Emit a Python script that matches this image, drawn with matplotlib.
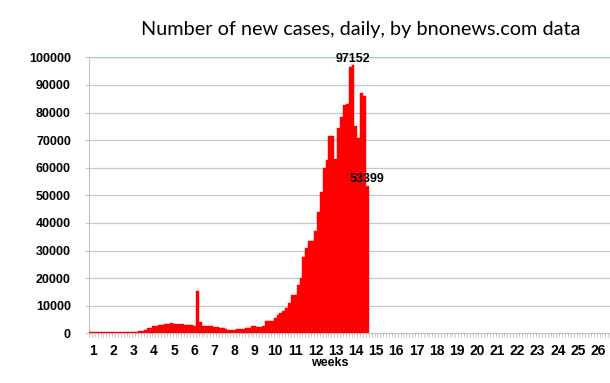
import numpy as np
import matplotlib
matplotlib.use('Agg')
from matplotlib import pyplot as plt

# daily new cases (day 0 = first bar)
early = [550, 550, 550, 550, 550, 550, 550, 550, 550, 550,
         550, 550, 550, 550, 550, 550, 600, 700, 900, 1300,
         1800, 2100, 2500, 2700, 2900, 3100, 3300, 3500, 3600, 3500,
         3400, 3300, 3200, 3100, 3000, 2900, 2800]
middle = [15200, 4200, 2700, 2600, 2500, 2500, 2400, 2300, 2100, 1900,
          1500, 1200, 1200, 1300, 1500, 1600, 1700, 1800, 2000, 2600,
          2600, 2400, 2400, 2500, 4400, 4400, 4500, 5500, 6500, 7500,
          8200]
late = [9200, 11000, 14000, 14000, 17600, 20000, 27600, 30800, 33300, 33300,
        37200, 44000, 51300, 59800, 62800, 71600, 71600, 63200, 74300, 78500,
        82700, 83000, 96500, 97152, 75000, 70600, 87200, 86000, 53399]
cases = early + middle + late
days = np.arange(len(cases))

week_labels = [str(k) for k in range(1, 27)]
n_days = 26 * 7

plt.rcParams['font.family'] = ['Liberation Sans', 'DejaVu Sans']

fig = plt.figure(figsize=(6.10, 3.83), dpi=100)
ax = fig.add_axes([89 / 610, 49.7 / 383, 525 / 610, 276 / 383])

ax.bar(days, cases, width=1.0, color='#ff0000', edgecolor='#ff0000', linewidth=0.3, zorder=3)

ax.set_xlim(-0.5, n_days - 0.5)
ax.set_ylim(0, 100000)

yt = np.arange(0, 100001, 10000)
ax.set_yticks(yt)
ax.set_yticklabels([str(v) for v in yt], fontsize=9, fontweight='bold')
for v in yt[1:-1]:
    ax.axhline(v, color='#c8c8c8', lw=0.9, zorder=1)
ax.axhline(100000, color='#8fd0d4', lw=1.0, zorder=1)

ax.set_xticks([7 * k + 1 for k in range(26)])
ax.set_xticklabels(week_labels, fontsize=10, fontweight='bold')
ax.set_xticks(np.arange(-0.5, n_days, 1), minor=True)
ax.tick_params(axis='x', which='major', length=0, pad=8)
ax.tick_params(axis='x', which='minor', length=3, color='#b0b0b0', width=0.5)
ax.tick_params(axis='y', length=3, color='#c8c8c8', pad=10)

for s in ['top', 'right']:
    ax.spines[s].set_visible(False)
ax.spines['left'].set_color('#c0c0c0')
ax.spines['bottom'].set_color('#c0c0c0')

ax.text((330 - 89) / 525, -0.085, 'weeks', transform=ax.transAxes, ha='center', va='top',
        fontsize=9, fontweight='bold')

i_peak = int(np.argmax(cases))
ax.annotate(str(cases[i_peak]), (days[i_peak], cases[i_peak]), xytext=(0, 0),
            textcoords='offset points', ha='center', va='bottom', fontsize=9, fontweight='bold', zorder=5)
ax.annotate(str(cases[-1]), (days[-1], cases[-1]), xytext=(0, 1),
            textcoords='offset points', ha='center', va='bottom', fontsize=9, fontweight='bold', zorder=5)

fig.text(361 / 610, 1 - 30 / 383, 'Number of new cases, daily, by bnonews.com data',
         ha='center', va='center', fontsize=14.3, family=['Lato', 'DejaVu Sans'])

fig.savefig('out.png', dpi=100)
